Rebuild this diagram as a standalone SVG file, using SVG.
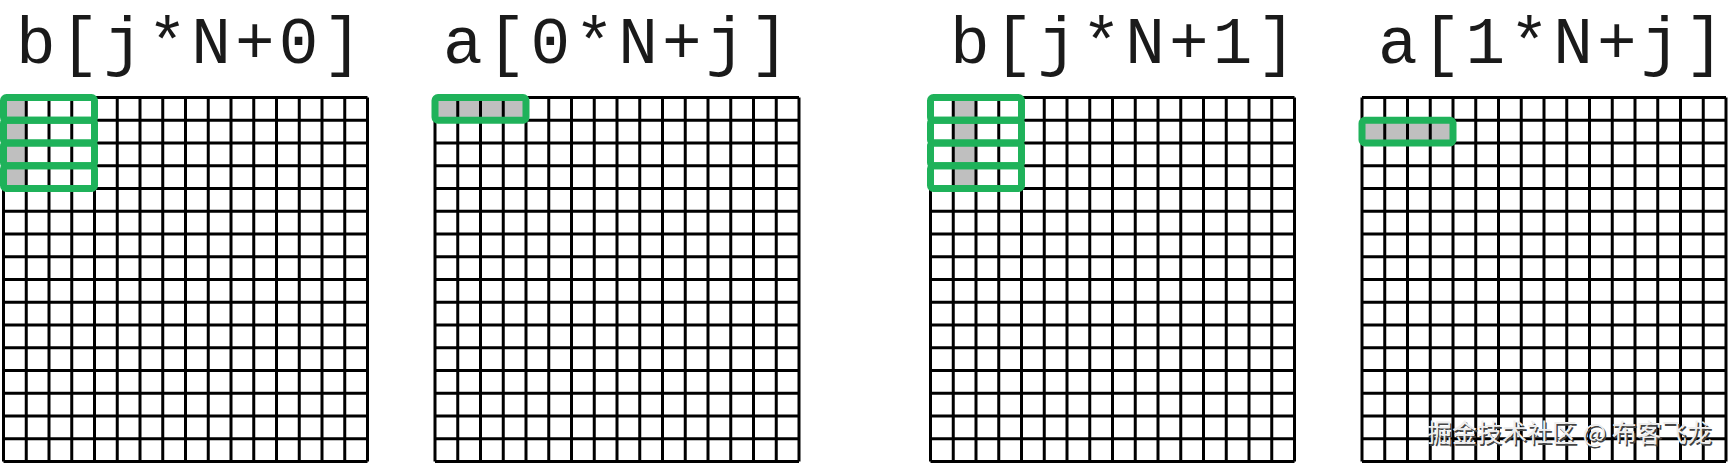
<svg xmlns="http://www.w3.org/2000/svg" xmlns:xlink="http://www.w3.org/1999/xlink" width="1729" height="463" viewBox="0 0 1729 463">
<style>
.title{font-family:"Liberation Mono","Courier New",monospace;font-size:66px;letter-spacing:4.2px;fill:#1a1a1a;}
.gridline{fill:none;stroke:#000;stroke-width:3;}
.gray{fill:#bfbfbf;}
.line{fill:none;stroke:#1fb25a;stroke-width:7;}
.wm{font-family:"Noto Sans CJK SC",sans-serif;font-size:25px;}
</style>
<defs>
<path id="grid" class="gridline" d="M0 0v364M22.75 0v364M45.5 0v364M68.25 0v364M91 0v364M113.75 0v364M136.5 0v364M159.25 0v364M182 0v364M204.75 0v364M227.5 0v364M250.25 0v364M273 0v364M295.75 0v364M318.5 0v364M341.25 0v364M364 0v364M0 0h364M0 22.75h364M0 45.5h364M0 68.25h364M0 91h364M0 113.75h364M0 136.5h364M0 159.25h364M0 182h364M0 204.75h364M0 227.5h364M0 250.25h364M0 273h364M0 295.75h364M0 318.5h364M0 341.25h364M0 364h364"/>
</defs>
<rect width="1729" height="463" fill="#fff"/>
<g id="panel-b0">
<text class="title" x="16" y="63">b[j*N+0]</text>
<g transform="translate(3.5,97.5)">
<rect class="gray" x="0" y="0" width="22.75" height="91"/>
<use xlink:href="#grid" href="#grid"/>
<rect class="line" x="0" y="0" width="91" height="22.75" rx="3"/>
<rect class="line" x="0" y="22.75" width="91" height="22.75" rx="3"/>
<rect class="line" x="0" y="45.5" width="91" height="22.75" rx="3"/>
<rect class="line" x="0" y="68.25" width="91" height="22.75" rx="3"/>
</g>
</g>
<g id="panel-a0">
<text class="title" x="443" y="63">a[0*N+j]</text>
<g transform="translate(435,97.5)">
<rect class="gray" x="0" y="0" width="91" height="22.75"/>
<use xlink:href="#grid" href="#grid"/>
<rect class="line" x="0" y="0" width="91" height="22.75" rx="3"/>
</g>
</g>
<g id="panel-b1">
<text class="title" x="950" y="63">b[j*N+1]</text>
<g transform="translate(930.5,97.5)">
<rect class="gray" x="22.75" y="0" width="22.75" height="91"/>
<use xlink:href="#grid" href="#grid"/>
<rect class="line" x="0" y="0" width="91" height="22.75" rx="3"/>
<rect class="line" x="0" y="22.75" width="91" height="22.75" rx="3"/>
<rect class="line" x="0" y="45.5" width="91" height="22.75" rx="3"/>
<rect class="line" x="0" y="68.25" width="91" height="22.75" rx="3"/>
</g>
</g>
<g id="panel-a1">
<text class="title" x="1378" y="63">a[1*N+j]</text>
<g transform="translate(1362,97.5)">
<rect class="gray" x="0" y="22.75" width="91" height="22.75"/>
<use xlink:href="#grid" href="#grid"/>
<rect class="line" x="0" y="22.75" width="91" height="22.75" rx="3"/>
</g>
</g>
<g id="connectors"></g>
<g id="watermark">
<text class="wm" x="1428.5" y="443.5" fill="#444">掘金技术社区 @ 布客飞龙</text>
<text class="wm" x="1427" y="442" fill="#eeeeee">掘金技术社区 @ 布客飞龙</text>
</g>
</svg>
